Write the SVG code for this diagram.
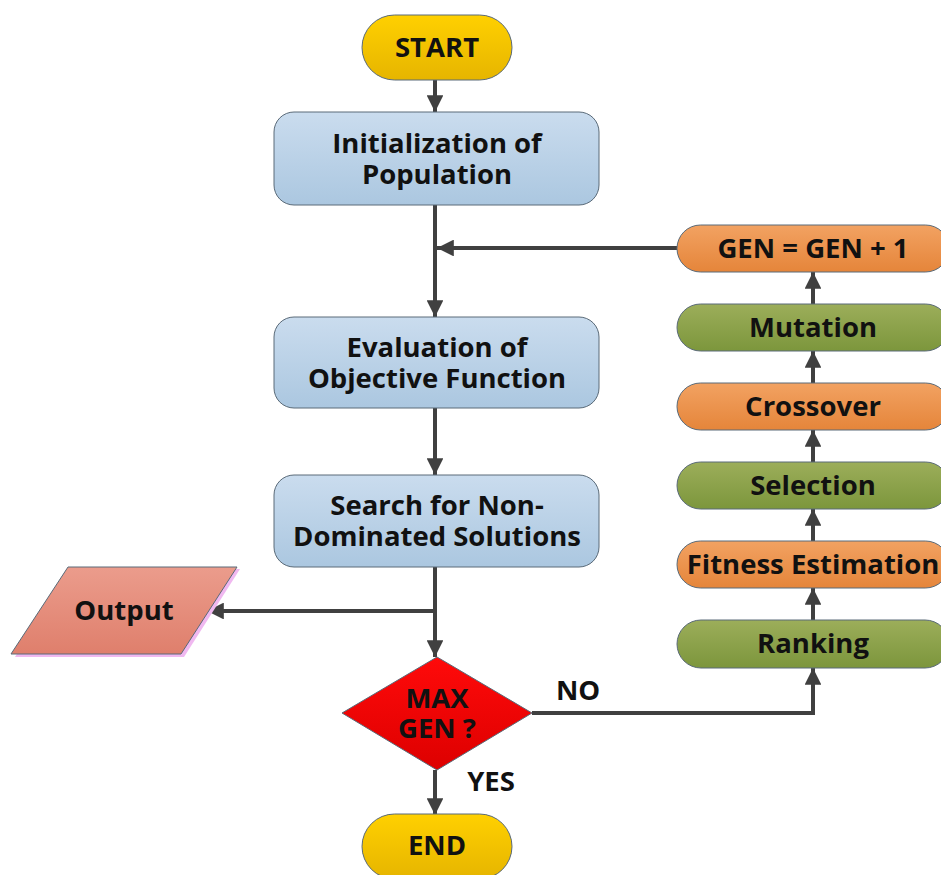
<svg xmlns="http://www.w3.org/2000/svg" width="941" height="875" viewBox="0 0 941 875">
<defs>
<linearGradient id="gBlue" x1="0" y1="0" x2="0" y2="1"><stop offset="0" stop-color="#cadcee"/><stop offset="1" stop-color="#abc7e0"/></linearGradient>
<linearGradient id="gOrange" x1="0" y1="0" x2="0" y2="1"><stop offset="0" stop-color="#f2a262"/><stop offset="1" stop-color="#e5853a"/></linearGradient>
<linearGradient id="gGreen" x1="0" y1="0" x2="0" y2="1"><stop offset="0" stop-color="#9cae5a"/><stop offset="1" stop-color="#7c963c"/></linearGradient>
<linearGradient id="gYellow" x1="0" y1="0" x2="0" y2="1"><stop offset="0" stop-color="#ffd000"/><stop offset="1" stop-color="#e6b500"/></linearGradient>
<linearGradient id="gRed" x1="0" y1="0" x2="0" y2="1"><stop offset="0" stop-color="#ff0a0a"/><stop offset="1" stop-color="#dd0000"/></linearGradient>
<linearGradient id="gPink" x1="0" y1="0" x2="0" y2="1"><stop offset="0" stop-color="#eb9c8c"/><stop offset="1" stop-color="#df7f6c"/></linearGradient>
<marker id="arr" viewBox="0 0 10 10" refX="10" refY="5" markerWidth="4.2" markerHeight="4.2" orient="auto" markerUnits="strokeWidth">
<path d="M0,0 L10,5 L0,10 z" fill="#404040"/>
</marker>
</defs>
<style>
text{font-family:"Open Sans","Liberation Sans",sans-serif;font-weight:bold;fill:#111;text-anchor:middle;font-size:27.5px}
.sh{stroke:#5a6a78;stroke-width:1}
.c{fill:none;stroke:#404040;stroke-width:4}
</style>
<g id="connectors">
<line class="c" x1="435" y1="80" x2="435" y2="112" marker-end="url(#arr)"/>
<line class="c" x1="435" y1="205" x2="435" y2="317" marker-end="url(#arr)"/>
<line class="c" x1="677" y1="248" x2="437" y2="248" marker-end="url(#arr)"/>
<line class="c" x1="435" y1="408" x2="435" y2="475" marker-end="url(#arr)"/>
<line class="c" x1="435" y1="567" x2="435" y2="657" marker-end="url(#arr)"/>
<line class="c" x1="435" y1="611" x2="207" y2="611" marker-end="url(#arr)"/>
<line class="c" x1="435" y1="770" x2="435" y2="815" marker-end="url(#arr)"/>
<polyline class="c" points="532,713 813,713 813,668" marker-end="url(#arr)"/>
<line class="c" x1="813" y1="620" x2="813" y2="588" marker-end="url(#arr)"/>
<line class="c" x1="813" y1="541" x2="813" y2="509" marker-end="url(#arr)"/>
<line class="c" x1="813" y1="462" x2="813" y2="430" marker-end="url(#arr)"/>
<line class="c" x1="813" y1="383" x2="813" y2="351" marker-end="url(#arr)"/>
<line class="c" x1="813" y1="304" x2="813" y2="272" marker-end="url(#arr)"/>
</g>
<g id="start"><rect class="sh" x="362" y="15" width="150" height="65" rx="32.5" fill="url(#gYellow)"/><text x="437" y="57">START</text></g>
<g id="init"><rect class="sh" x="274" y="112" width="325" height="93" rx="20" fill="url(#gBlue)"/><text x="437" y="153">Initialization of</text><text x="437" y="184">Population</text></g>
<g id="eval"><rect class="sh" x="274" y="317" width="325" height="91" rx="20" fill="url(#gBlue)"/><text x="437" y="357">Evaluation of</text><text x="437" y="388">Objective Function</text></g>
<g id="search"><rect class="sh" x="274" y="475" width="325" height="92" rx="20" fill="url(#gBlue)"/><text x="437" y="515">Search for Non-</text><text x="437" y="546">Dominated Solutions</text></g>
<g id="output"><polygon points="15,657 71,569 240,569 184,657" fill="#f0b8f0"/><polygon class="sh" points="11,654 68,567 237,567 181,654" fill="url(#gPink)"/><text x="124" y="620">Output</text></g>
<g id="decision"><polygon class="sh" points="437,657 532,713 437,770 342,713" fill="url(#gRed)"/><text x="437" y="708">MAX</text><text x="437" y="738">GEN ?</text></g>
<g id="end"><rect class="sh" x="362" y="814" width="150" height="65" rx="32.5" fill="url(#gYellow)"/><text x="437" y="855">END</text></g>
<g id="gen"><rect class="sh" x="677" y="225" width="272" height="47" rx="23.5" fill="url(#gOrange)"/><text x="813" y="258">GEN = GEN + 1</text></g>
<g id="mutation"><rect class="sh" x="677" y="304" width="272" height="47" rx="23.5" fill="url(#gGreen)"/><text x="813" y="337">Mutation</text></g>
<g id="crossover"><rect class="sh" x="677" y="383" width="272" height="47" rx="23.5" fill="url(#gOrange)"/><text x="813" y="416">Crossover</text></g>
<g id="selection"><rect class="sh" x="677" y="462" width="272" height="47" rx="23.5" fill="url(#gGreen)"/><text x="813" y="495">Selection</text></g>
<g id="fitness"><rect class="sh" x="677" y="541" width="272" height="47" rx="23.5" fill="url(#gOrange)"/><text x="813" y="574">Fitness Estimation</text></g>
<g id="ranking"><rect class="sh" x="677" y="620" width="272" height="48" rx="24" fill="url(#gGreen)"/><text x="813" y="653">Ranking</text></g>
<g id="labels"><text x="578" y="700">NO</text><text x="491" y="791">YES</text></g>
</svg>
